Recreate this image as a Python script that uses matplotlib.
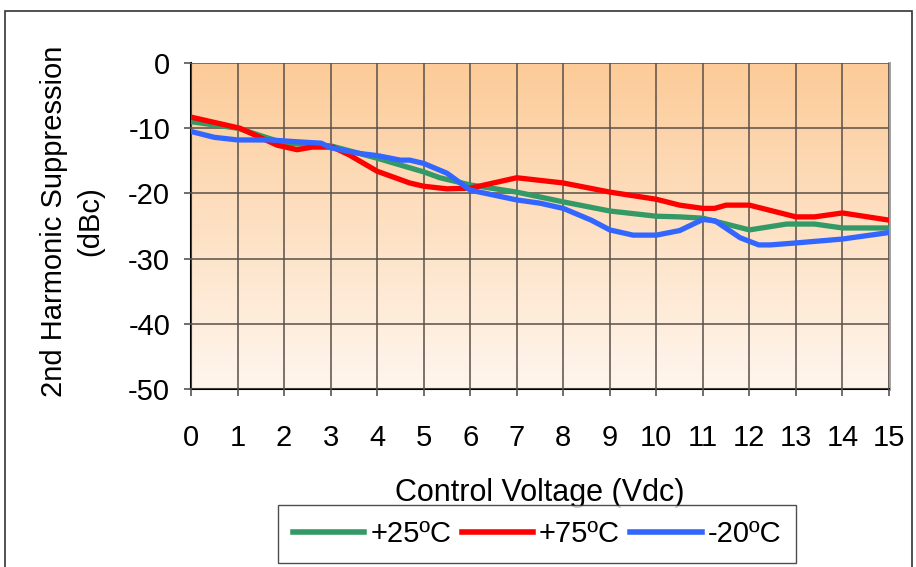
import numpy as np
import matplotlib
matplotlib.use("Agg")
import matplotlib.pyplot as plt
from matplotlib.patches import Rectangle
from matplotlib.colors import LinearSegmentedColormap

plt.rcParams['font.family'] = ['Liberation Sans', 'DejaVu Sans']

# Data
v_25 = [0, 1, 2, 3, 4, 5, 5.35, 6, 7, 8, 9, 10, 10.5, 11, 12, 12.8, 13.4, 14, 15]
y_25 = [-9.0, -10.0, -12.3, -12.7, -14.6, -16.7, -17.6, -18.7, -19.8, -21.3, -22.7, -23.5, -23.6, -23.8, -25.6, -24.7, -24.7, -25.3, -25.3]

v_75 = [0, 1.05, 1.85, 2.28, 2.6, 3.05, 3.4, 4.0, 4.7, 5.0, 5.5, 6.0, 7.0, 8.0, 9.0, 10.0, 10.5, 11.0, 11.25, 11.5, 12.0, 13.0, 13.4, 14.0, 15.0]
y_75 = [-8.3, -10.0, -12.6, -13.3, -12.9, -12.9, -14.1, -16.6, -18.4, -18.9, -19.3, -19.2, -17.6, -18.4, -19.8, -20.9, -21.8, -22.3, -22.3, -21.8, -21.8, -23.6, -23.6, -23.0, -24.1]

v_m20 = [0, 0.5, 1.0, 1.7, 2.1, 2.8, 3.0, 3.65, 4.0, 4.5, 4.7, 5.0, 5.5, 6.0, 7.0, 7.5, 8.0, 8.6, 9.0, 9.5, 10.0, 10.5, 11.0, 11.26, 11.8, 12.2, 12.45, 13.0, 14.0, 15.0]
y_m20 = [-10.5, -11.4, -11.8, -11.8, -12.0, -12.3, -13.0, -13.9, -14.2, -14.9, -14.9, -15.4, -16.9, -19.5, -21.0, -21.5, -22.3, -24.1, -25.6, -26.4, -26.4, -25.7, -24.0, -24.2, -26.8, -27.9, -27.9, -27.6, -27.0, -26.0]

series_labels = ['+25ºC', '+75ºC', '-20ºC']
series_colors = ['#339966', '#FF0000', '#3366FF']
x_ticks = list(range(0, 16))
y_ticks = [0, -10, -20, -30, -40, -50]

fig = plt.figure(figsize=(9.16, 5.67), dpi=100)
W, H = 916, 567
ax = fig.add_axes([191 / W, 1 - 389 / H, (889 - 191) / W, (389 - 63) / H])

# outer chart border
fig.patches.append(Rectangle((5 / W, -0.01), (912 - 5) / W, (1 - 11 / H) + 0.01,
                             transform=fig.transFigure, fill=False,
                             edgecolor='#333333', linewidth=1.2))

# gradient background
cmap = LinearSegmentedColormap.from_list('bg', ['#FCCB98', '#FFF6EE'])
grad = np.linspace(0, 1, 256).reshape(-1, 1)
ax.imshow(grad, cmap=cmap, aspect='auto', extent=[0, 15, -50, 0], origin='upper', zorder=0)

ax.set_xlim(0, 15)
ax.set_ylim(-50, 0)
ax.set_xticks(x_ticks)
ax.set_yticks(y_ticks)
ax.set_xticklabels([str(t) for t in x_ticks], fontsize=21)
ax.set_yticklabels([str(t) for t in y_ticks], fontsize=21)
ax.tick_params(axis='x', length=5, width=1.2, color='#555555', pad=20)
ax.tick_params(axis='y', length=5, width=1.2, color='#555555', pad=10)

ax.grid(True, color='#5a5048', linewidth=1.3, alpha=0.85, zorder=1)
ax.set_axisbelow(False)
ax.spines['top'].set_visible(False)
ax.spines['right'].set_color('#999999')
ax.spines['right'].set_linewidth(2)
ax.spines['left'].set_linewidth(1.5)
ax.spines['bottom'].set_linewidth(1.5)

lines = []
for xs, ys, lab, col in [(v_25, y_25, series_labels[0], series_colors[0]),
                         (v_75, y_75, series_labels[1], series_colors[1]),
                         (v_m20, y_m20, series_labels[2], series_colors[2])]:
    l, = ax.plot(xs, ys, color=col, linewidth=3.8, label=lab, zorder=3,
                 solid_joinstyle='round')
    lines.append(l)

fig.text(540 / W, 1 - 493 / H, 'Control Voltage (Vdc)', ha='center', va='center', fontsize=22)
fig.text(72 / W, 1 - 221 / H, '2nd Harmonic Suppression\n(dBc)', ha='center', va='center',
         rotation=90, fontsize=21, linespacing=1.36)

leg = fig.legend(handles=lines, loc='center', bbox_to_anchor=(537 / W, 1 - 534 / H),
                 ncol=3, fontsize=21, frameon=True, fancybox=False,
                 edgecolor='#222222', handlelength=2.45, handletextpad=0.2,
                 columnspacing=0.35, borderpad=0.5, borderaxespad=0)
leg.get_frame().set_linewidth(1.0)
for lh in leg.get_lines():
    lh.set_linewidth(4)

fig.savefig('out.png', dpi=100)
